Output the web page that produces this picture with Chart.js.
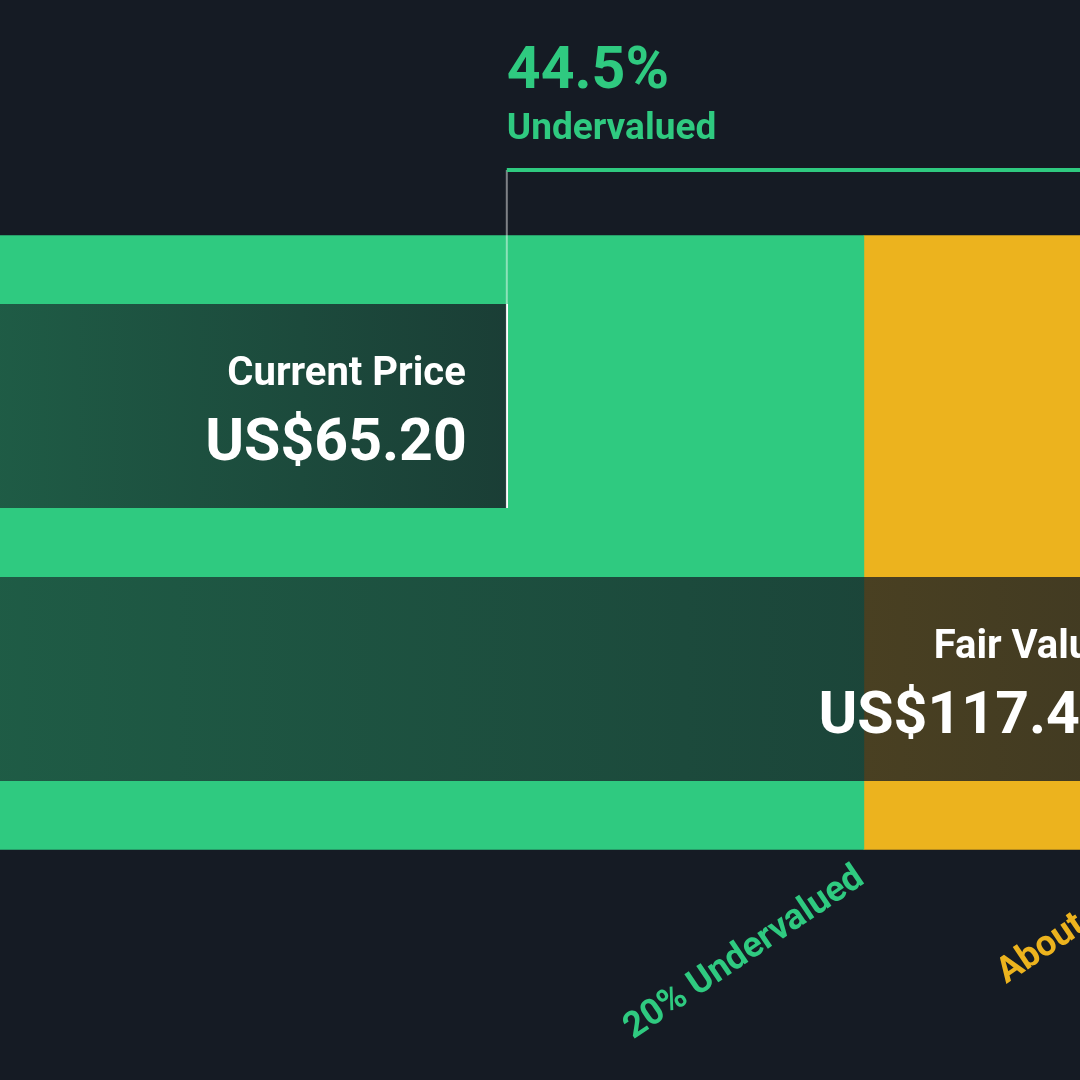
<!DOCTYPE html>
<html>
<head>
<meta charset="utf-8">
<script src="https://cdn.jsdelivr.net/npm/chart.js@4"></script>
<style>
  html, body { margin: 0; padding: 0; background: #151b24; }
  #wrap { width: 1080px; height: 1080px; }
</style>
</head>
<body>
<div id="wrap"><canvas id="valuation" width="1080" height="1080"></canvas></div>
<script>
// values
const categories = ["Current Price", "Fair Value"];
const prices = [65.2, 117.44];
const priceLabels = ["US$65.20", "US$117.44"];

const zoneNames = ["20% Undervalued", "About right", "20% Overvalued"];
const zoneStart = [0, 93.95, 140.93];
const zoneEnd = [93.95, 140.93, 170];
const zoneLabelAt = [93.95, 117.44, 140.93];
const zoneColors = ["#2fca80", "#ecb31e", "#e64c4c"];

const axisMin = 24.2;
const axisMax = 111.4;

// dark overlay bar, gets darker to the right
function barFill(ctx) {
  const chart = ctx.chart;
  if (!chart.chartArea) return "rgba(21,27,35,0.7)";
  const x = chart.scales.x;
  const x0 = chart.chartArea.left;
  const x1 = x.getPixelForValue(prices[ctx.dataIndex]);
  const g = chart.ctx.createLinearGradient(x0, 0, x1, 0);
  g.addColorStop(0, "rgba(21,27,35,0.63)");
  g.addColorStop(1, "rgba(21,27,35,0.8)");
  return g;
}

const zoneDatasets = zoneNames.map((n, i) => ({
  label: n,
  data: [[zoneStart[i], zoneEnd[i]]],
  backgroundColor: zoneColors[i],
  yAxisID: "y2",
  barThickness: 614,
  grouped: false,
  clip: false,
  order: 2,
}));

const labelsPlugin = {
  id: "labels",
  afterDatasetsDraw(chart) {
    const ctx = chart.ctx;
    const x = chart.scales.x;
    const meta = chart.getDatasetMeta(zoneDatasets.length);

    // text on the two bars
    meta.data.forEach((bar, i) => {
      ctx.save();
      ctx.fillStyle = "#ffffff";
      ctx.textAlign = "right";
      ctx.textBaseline = "alphabetic";
      ctx.font = "bold 40px Roboto";
      ctx.fillText(categories[i], bar.x - 42, bar.y - 21);
      ctx.font = "bold 59px Roboto";
      ctx.fillText(priceLabels[i], bar.x - 41, bar.y + 54);
      ctx.restore();
    });

    // discount marker above the bars
    const cur = meta.data[0];
    const cx = x.getPixelForValue(prices[0]);
    const fx = x.getPixelForValue(prices[1]);
    const lineY = 170;
    ctx.save();
    ctx.strokeStyle = "rgba(255,255,255,0.45)";
    ctx.lineWidth = 2;
    ctx.beginPath();
    ctx.moveTo(cx - 1, lineY);
    ctx.lineTo(cx - 1, cur.y - cur.height / 2);
    ctx.stroke();
    ctx.strokeStyle = zoneColors[0];
    ctx.lineWidth = 4;
    ctx.beginPath();
    ctx.moveTo(cx - 1, lineY);
    ctx.lineTo(fx, lineY);
    ctx.stroke();
    const pct = (1 - prices[0] / prices[1]) * 100;
    ctx.fillStyle = zoneColors[0];
    ctx.textAlign = "left";
    ctx.font = "bold 59px Roboto";
    ctx.fillText(pct.toFixed(1) + "%", cx - 1, 88);
    ctx.font = "bold 37px Roboto";
    ctx.fillText("Undervalued", cx - 1, 139);
    ctx.restore();

    // rotated zone names under the band
    const zb = chart.getDatasetMeta(0).data[0];
    const bottom = zb.y + zb.height / 2;
    zoneNames.forEach((n, i) => {
      ctx.save();
      ctx.translate(x.getPixelForValue(zoneLabelAt[i]) + 2, bottom + 33);
      ctx.rotate(-34 * Math.PI / 180);
      ctx.font = "bold 36px Roboto";
      ctx.fillStyle = zoneColors[i];
      ctx.textAlign = "right";
      ctx.textBaseline = "alphabetic";
      ctx.fillText(n, 0, 0);
      ctx.restore();
    });
  },
};

new Chart(document.getElementById("valuation"), {
  type: "bar",
  data: {
    datasets: zoneDatasets.concat([
      {
        label: "price",
        data: prices,
        backgroundColor: barFill,
        borderColor: "#ffffff",
        borderWidth: { right: 2, left: 0, top: 0, bottom: 0 },
        borderSkipped: false,
        barThickness: 204,
        grouped: false,
        yAxisID: "y",
        order: 1,
      },
    ]),
  },
  options: {
    indexAxis: "y",
    responsive: false,
    devicePixelRatio: 1,
    animation: false,
    layout: { padding: { top: 269.5, bottom: 264.5, left: 0, right: 0 } },
    scales: {
      x: { min: axisMin, max: axisMax, display: false },
      y: { type: "category", labels: categories, display: false },
      y2: { type: "category", labels: ["zone"], display: false },
    },
    plugins: { legend: { display: false }, tooltip: { enabled: false } },
  },
  plugins: [labelsPlugin],
});
</script>
</body>
</html>
